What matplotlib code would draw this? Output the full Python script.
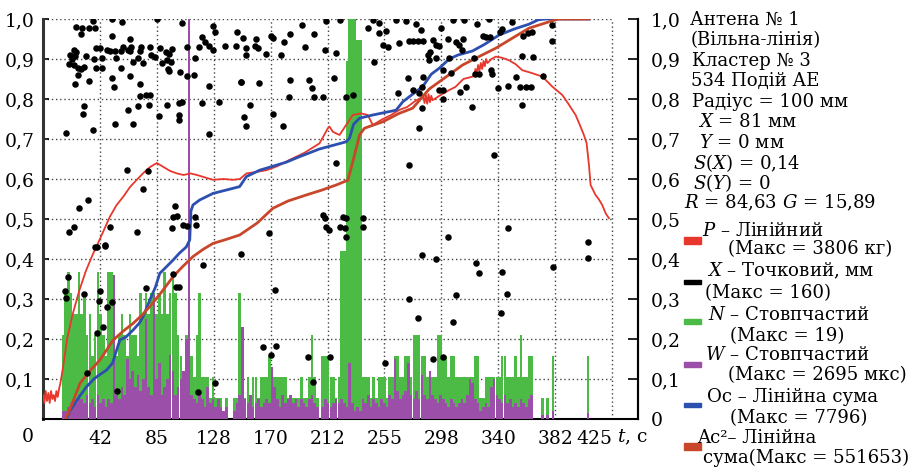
import numpy as np
import matplotlib
matplotlib.use("Agg")
import matplotlib.pyplot as plt
from matplotlib.patches import Rectangle

plt.rcParams['font.family'] = ['DejaVu Serif']
plt.rcParams['mathtext.fontset'] = 'custom'
plt.rcParams['mathtext.it'] = 'DejaVu Serif:italic'
plt.rcParams['mathtext.rm'] = 'DejaVu Serif'

# ---------------- data ----------------
x_ticks = [42.5, 85, 127.5, 170, 212.5, 255, 297.5, 340, 382.5, 425]
x_labels = ['42', '85', '128', '170', '212', '255', '298', '340', '382', '425']
y_ticks = [0.0, 0.1, 0.2, 0.3, 0.4, 0.5, 0.6, 0.7, 0.8, 0.9, 1.0]
y_labels_left = ['', '0,1', '0,2', '0,3', '0,4', '0,5', '0,6', '0,7', '0,8', '0,9', '1,0']
y_labels_right = ['0', '0,1', '0,2', '0,3', '0,4', '0,5', '0,6', '0,7', '0,8', '0,9', '1,0']

# 2-second bins starting at t = 14
bin_start = 14
N_counts = [4, 6, 7, 6, 5, 5, 7, 5, 6, 4, 5, 3, 4, 7, 5, 4, 3, 7, 7, 2,
            3, 4, 5, 4, 3, 5, 4, 4, 3, 6, 5, 6, 5, 6, 6, 5, 6, 5, 7, 5,
            6, 7, 6, 4, 3, 2, 4, 6, 3, 2, 4, 6, 2, 2, 2, 1, 2, 1, 1, 1,
            0, 1, 0, 0, 1, 1, 6, 2, 1, 2, 1, 2, 2, 1, 2, 2, 2, 3, 2, 2,
            2, 2, 2, 2, 1, 1, 1, 1, 1, 2, 1, 1, 2, 4, 2, 1, 0, 3, 3, 3,
            2, 2, 1, 2, 8, 8, 17, 19, 19, 19, 18, 18, 2, 2, 2, 1, 2, 1, 2, 2,
            2, 1, 2, 2, 3, 3, 2, 2, 3, 3, 2, 4, 4, 4, 3, 3, 2, 2, 2, 2,
            4, 4, 3, 3, 2, 3, 3, 2, 2, 2, 2, 2, 2, 2, 3, 3, 1, 1, 2, 2,
            2, 2, 2, 2, 3, 3, 2, 2, 2, 3, 2, 4, 2, 2, 3, 3, 0, 0, 0, 1,
            0, 1, 0, 3, 0, 0, 0, 0, 0, 0, 0, 0, 0, 0, 0, 0, 3, 0]
N_max = 19
W_rel = [0.02, 0.02, 0.03, 0.04, 0.05, 0.04, 0.06, 0.05, 0.04, 0.06, 0.04, 0.05, 0.03, 0.06, 0.04, 0.05, 0.03, 0.05, 0.04, 0.36,
         0.06, 0.05, 0.08, 0.06, 0.15, 0.10, 0.12, 0.08, 0.11, 0.07, 0.10, 0.25, 0.08, 0.06, 0.31, 0.10, 0.14, 0.06, 0.08, 0.10,
         0.16, 0.12, 0.06, 0.08, 0.10, 0.12, 0.20, 1.00, 0.06, 0.05, 0.04, 0.06, 0.05, 0.03, 0.08, 0.04, 0.05, 0.03, 0.05, 0.03,
         0.02, 0.03, 0.0, 0.0, 0.02, 0.04, 0.06, 0.23, 0.05, 0.04, 0.06, 0.03, 0.04, 0.05, 0.03, 0.04, 0.05, 0.04, 0.13, 0.08,
         0.05, 0.03, 0.06, 0.04, 0.05, 0.06, 0.04, 0.05, 0.03, 0.05, 0.04, 0.03, 0.05, 0.06, 0.04, 0.03, 0.0, 0.03, 0.05, 0.04,
         0.03, 0.04, 0.05, 0.04, 0.05, 0.04, 0.03, 0.14, 0.04, 0.02, 0.03, 0.02, 0.05, 0.04, 0.06, 0.03, 0.05, 0.04, 0.03, 0.05,
         0.04, 0.03, 0.06, 0.05, 0.15, 0.07, 0.05, 0.06, 0.07, 0.14, 0.06, 0.05, 0.07, 0.05, 0.11, 0.06, 0.05, 0.12, 0.06, 0.05,
         0.04, 0.06, 0.05, 0.04, 0.03, 0.05, 0.04, 0.03, 0.04, 0.05, 0.04, 0.06, 0.10, 0.09, 0.05, 0.04, 0.02, 0.03, 0.04, 0.03,
         0.08, 0.10, 0.06, 0.05, 0.04, 0.06, 0.04, 0.05, 0.03, 0.04, 0.03, 0.05, 0.04, 0.03, 0.05, 0.06, 0.0, 0.0, 0.0, 0.01,
         0.0, 0.01, 0.0, 0.02, 0.0, 0.0, 0.0, 0.0, 0.0, 0.0, 0.0, 0.0, 0.0, 0.0, 0.0, 0.0, 0.015, 0.0]

P_line = [(0, 0.06), (1, 0.04), (2, 0.07), (3, 0.045), (4, 0.065), (5, 0.04), (6, 0.07), (7, 0.05),
          (8, 0.06), (9, 0.045), (10, 0.07), (11, 0.055), (12, 0.075), (13, 0.09), (15, 0.13), (18, 0.2),
          (22, 0.26), (27, 0.32), (32, 0.37), (37, 0.41), (42.5, 0.45), (50, 0.506), (55, 0.535), (60, 0.556),
          (65, 0.58), (70, 0.598), (75, 0.615), (80, 0.63), (85, 0.64), (90, 0.63), (95, 0.62), (100, 0.614),
          (105, 0.61), (110, 0.614), (115, 0.61), (120, 0.605), (127, 0.598), (135, 0.6), (142, 0.598),
          (147, 0.6), (152, 0.614), (160, 0.618), (167, 0.622), (175, 0.632), (184, 0.6475), (195, 0.665),
          (206.5, 0.689), (210, 0.71), (212.8, 0.727), (214, 0.731), (216.5, 0.718), (221.5, 0.71),
          (226.4, 0.735), (231.4, 0.76), (237.6, 0.764), (242.6, 0.76), (246.3, 0.735), (253.8, 0.75),
          (260, 0.76), (266, 0.7725), (272, 0.78), (278, 0.795), (284, 0.806), (285, 0.79), (286, 0.81),
          (287, 0.788), (288, 0.812), (289, 0.792), (290, 0.808), (291, 0.797), (297, 0.81), (303.5, 0.8225),
          (308, 0.83), (314, 0.85), (320.8, 0.856), (322, 0.86), (323, 0.875), (324, 0.865), (325, 0.885),
          (326, 0.87), (327, 0.89), (328, 0.875), (329, 0.895), (330, 0.882), (331, 0.9), (332, 0.89),
          (335, 0.9), (338.2, 0.906), (343, 0.903), (348, 0.897), (353, 0.887), (358, 0.872), (365, 0.865),
          (373, 0.856), (380.4, 0.831), (387.9, 0.81), (392, 0.79), (397.8, 0.76), (401, 0.735), (404, 0.71),
          (406, 0.69), (407.8, 0.635), (409, 0.585), (412.7, 0.56), (415, 0.55), (417.7, 0.535),
          (420.3, 0.514), (422.7, 0.502)]

Oc_line = [(17.7, 0.0), (20, 0.02), (24, 0.04), (28, 0.06), (32.6, 0.081), (38, 0.1), (42, 0.11),
           (47.5, 0.1225), (52, 0.14), (55, 0.1725), (57.4, 0.1975), (62, 0.205), (67.3, 0.2225),
           (72, 0.24), (74.8, 0.256), (79.8, 0.2975), (84, 0.33), (87.2, 0.364), (92, 0.38), (97.2, 0.3975),
           (102, 0.415), (107, 0.43), (109.6, 0.4475), (110.5, 0.52), (112, 0.535), (117, 0.5475),
           (127, 0.564), (140, 0.575), (146.9, 0.581), (151.9, 0.606), (161.8, 0.622), (166.8, 0.627),
           (181.7, 0.642), (191, 0.655), (206.5, 0.675), (216.5, 0.684), (226.4, 0.693), (228.9, 0.702),
           (232, 0.737), (236.4, 0.752), (246.3, 0.76), (263.7, 0.772), (268.7, 0.793), (276.1, 0.812),
           (283.6, 0.831), (290, 0.862), (296, 0.877), (303.4, 0.9), (310, 0.91), (320.8, 0.92),
           (330, 0.937), (340.7, 0.96), (352, 0.975), (363, 0.987), (370, 0.998), (375, 1.0), (407.8, 1.0)]

Ac2_line = [(17, 0.0), (22, 0.04), (27.6, 0.089), (35, 0.12), (42.5, 0.1475), (48, 0.175), (52.4, 0.1975),
            (60, 0.22), (67.3, 0.239), (74, 0.26), (79.8, 0.281), (88, 0.315), (97.2, 0.356), (104, 0.38),
            (112, 0.406), (120, 0.425), (127, 0.439), (135, 0.447), (146.9, 0.46), (160, 0.49),
            (171.8, 0.527), (183, 0.545), (196.6, 0.56), (208, 0.572), (219, 0.585), (227.7, 0.597),
            (231.4, 0.643), (236.4, 0.71), (240.1, 0.727), (253.8, 0.743), (266, 0.764), (276.1, 0.777),
            (288.5, 0.825), (296, 0.843), (313.4, 0.885), (328, 0.91), (338.2, 0.927), (352, 0.955),
            (363, 0.977), (378, 0.993), (385, 1.0), (407.8, 1.0)]

X_points = [
    (37.3, 0.995), (51.7, 1.0), (58.9, 0.992), (85.0, 1.0), (103.9, 0.989), (126.7, 0.983), (128.2, 0.968),
    (144.6, 0.968), (24.9, 0.981), (29.3, 0.978), (34.3, 0.978), (39.0, 0.977), (28.3, 0.962), (51.7, 0.958),
    (65.1, 0.95), (118.8, 0.956), (121.3, 0.943), (59.6, 0.931), (65.6, 0.931), (63.6, 0.922), (73.1, 0.93),
    (80.0, 0.931), (87.5, 0.927), (96.4, 0.925), (107.9, 0.929), (116.8, 0.931), (124.3, 0.933),
    (136.2, 0.933), (144.1, 0.933), (22.9, 0.922), (24.9, 0.918), (39.8, 0.928), (42.7, 0.927),
    (47.7, 0.922), (50.2, 0.92), (53.7, 0.92), (58.6, 0.92), (65.1, 0.92), (72.1, 0.92), (20.4, 0.91),
    (23.9, 0.908), (21.4, 0.9), (31.8, 0.907), (38.3, 0.9), (43.7, 0.902), (54.2, 0.903), (71.1, 0.903),
    (80.5, 0.91), (84.0, 0.905), (91.5, 0.917), (93.9, 0.912), (92.4, 0.898), (95.9, 0.893), (113.3, 0.903),
    (126.7, 0.923), (19.4, 0.887), (22.9, 0.885), (25.8, 0.878), (30.3, 0.881), (28.3, 0.875), (39.8, 0.878),
    (43.7, 0.877), (58.2, 0.878), (67.1, 0.893), (74.6, 0.889), (89.0, 0.889), (93.4, 0.875), (94.4, 0.87),
    (102.4, 0.868), (107.4, 0.857), (112.8, 0.86), (25.8, 0.86), (23.9, 0.837), (34.3, 0.845), (51.2, 0.852),
    (65.1, 0.857), (52.7, 0.831), (72.6, 0.837), (124.3, 0.833), (148.1, 0.843), (72.1, 0.808), (77.0, 0.81),
    (80.0, 0.81), (70.6, 0.783), (63.6, 0.773), (79.5, 0.785), (92.4, 0.785), (101.9, 0.789), (103.9, 0.792),
    (118.8, 0.789), (131.2, 0.793), (30.8, 0.782), (29.8, 0.762), (86.5, 0.758), (101.4, 0.76), (101.9, 0.747),
    (53.7, 0.737), (67.1, 0.737), (16.9, 0.715), (37.3, 0.722), (123.8, 0.713), (62.6, 0.622), (78.5, 0.62),
    (74.6, 0.575), (33.8, 0.547), (26.8, 0.528), (22.9, 0.48), (19.4, 0.467), (50.2, 0.48), (70.1, 0.468),
    (38.8, 0.43), (46.2, 0.433), (98.9, 0.532), (97.4, 0.505), (99.9, 0.507), (96.4, 0.477), (104.4, 0.485),
    (107.4, 0.483), (113.8, 0.505), (114.3, 0.485),
    (211.5, 0.995), (221.5, 0.998), (246.3, 0.998), (251.3, 0.989), (263.7, 0.998), (271.2, 0.995),
    (278.6, 0.987), (282.3, 0.972), (149.4, 0.952), (158.8, 0.95), (170.5, 0.958), (184.2, 0.962),
    (193.6, 0.985), (202.1, 0.962), (151.9, 0.927), (158.1, 0.933), (160.6, 0.927), (171.8, 0.952),
    (179.7, 0.943), (195.4, 0.931), (211.0, 0.922), (219.0, 0.914), (242.6, 0.977), (251.3, 0.964),
    (256.2, 0.97), (253.8, 0.935), (257.5, 0.931), (266.2, 0.939), (273.6, 0.945), (276.1, 0.945),
    (279.9, 0.945), (283.6, 0.945), (291.0, 0.948), (293.5, 0.935), (166.8, 0.912), (178.0, 0.91),
    (151.4, 0.91), (247.5, 0.893), (287.3, 0.91), (288.5, 0.898), (148.1, 0.843), (161.3, 0.839),
    (184.2, 0.848), (198.6, 0.848), (201.1, 0.828), (202.1, 0.806), (217.0, 0.852), (209.5, 0.806),
    (183.7, 0.806), (226.4, 0.806), (231.4, 0.81), (272.4, 0.853), (276.1, 0.823), (283.6, 0.856),
    (283.1, 0.831), (265.0, 0.814), (281.1, 0.814), (154.4, 0.785), (171.8, 0.762), (149.9, 0.756),
    (151.9, 0.733), (179.2, 0.733), (283.1, 0.777), (280.6, 0.727), (219.0, 0.639), (273.6, 0.635),
    (209.0, 0.51), (211.0, 0.502), (211.5, 0.481), (213.5, 0.472), (223.9, 0.506), (226.4, 0.503),
    (222.0, 0.481), (225.4, 0.477), (226.4, 0.456), (239.3, 0.503), (239.3, 0.481), (168.8, 0.464),
    (305.9, 0.998), (314.6, 0.998), (323.8, 0.987), (333.2, 1.0), (350.1, 0.992), (297.2, 0.977),
    (342.7, 0.975), (341.2, 0.968), (302.2, 0.95), (308.4, 0.943), (313.4, 0.95), (310.4, 0.935),
    (312.9, 0.922), (328.3, 0.958), (330.7, 0.956), (333.7, 0.956), (295.5, 0.933), (358.6, 0.958),
    (362.6, 0.964), (365.0, 0.968), (380.0, 0.985), (380.4, 0.945), (293.5, 0.902), (303.4, 0.903),
    (289.0, 0.918), (322.0, 0.902), (358.1, 0.908), (366.0, 0.906), (298.4, 0.872), (304.7, 0.864),
    (322.8, 0.862), (325.8, 0.862), (334.5, 0.872), (335.7, 0.862), (353.6, 0.856), (373.5, 0.858),
    (296.0, 0.822), (298.9, 0.822), (311.4, 0.817), (315.8, 0.831), (340.2, 0.827), (347.6, 0.833),
    (356.1, 0.831), (360.6, 0.831), (364.3, 0.831), (298.4, 0.8), (320.3, 0.781), (357.6, 0.785),
    (337.0, 0.66), (347.6, 0.478), (302.2, 0.456), (407.3, 0.442),
    (40.0, 0.431), (46.2, 0.435), (18.9, 0.354), (16.4, 0.321), (17.1, 0.302), (42.5, 0.321),
    (41.5, 0.296), (51.4, 0.292), (47.9, 0.281), (40.5, 0.216), (45.0, 0.229), (30.6, 0.312),
    (33.1, 0.114), (77.3, 0.327), (97.2, 0.362), (99.6, 0.331), (101.6, 0.329), (119.5, 0.385),
    (148.1, 0.4125), (115.8, 0.068), (128.2, 0.089), (55.4, 0.071), (164.3, 0.179), (170.5, 0.16),
    (173.0, 0.3225), (173.7, 0.182), (197.8, 0.154), (201.5, 0.093), (214.5, 0.154), (255.7, 0.139),
    (273.1, 0.299), (279.8, 0.252), (283.1, 0.41), (293.5, 0.399), (308.4, 0.31), (306.4, 0.243),
    (299.0, 0.154), (291.0, 0.15), (323.3, 0.389), (325.3, 0.364), (342.7, 0.367), (346.9, 0.312),
    (341.9, 0.266), (381.0, 0.379), (407.3, 0.402)]

legend_info = ["Антена № 1", "(Вільна-лінія)", "Кластер № 3", "534 Подій АЕ", "Радіус = 100 мм",
               "$X$ = 81 мм", "$Y$ = 0 мм", "$S(X)$ = 0,14", "$S(Y)$ = 0", "$R$ = 84,63 $G$ = 15,89"]
legend_series = ["$P$ – Лінійний", "(Макс = 3806 кг)", "$X$ – Точковий, мм", "(Макс = 160)",
                 "$N$ – Стовпчастий", "(Макс = 19)", "$W$ – Стовпчастий", "(Макс = 2695 мкс)",
                 "Ос – Лінійна сума", "(Макс = 7796)", "Ac²– Лінійна", "сума(Макс = 551653)"]

# ---------------- styling ----------------
W_PX, H_PX = 916, 472
C_RED = '#e8372c'
C_BLUE = '#2c4fb0'
C_BROWN = '#c8472a'
C_GREEN = '#4cbb45'
C_PURPLE = '#9c4fa8'
FS = 13.5
FS_TXT = 13.1

fig = plt.figure(figsize=(W_PX / 100, H_PX / 100), dpi=100)
fig.patch.set_facecolor('white')

def fx(px):
    return px / W_PX

def fy(py):
    return 1 - py / H_PX

x0, x1, ytop, ybot = 43, 638, 19, 419
ax = fig.add_axes([fx(x0), fy(ybot), fx(x1) - fx(x0), fy(ytop) - fy(ybot)])
px_per_t = (612 - 43) / 425.0
ax.set_xlim(0, (x1 - x0) / px_per_t)
ax.set_ylim(0, 1)

# grid limited to t <= 425
ax.vlines(x_ticks, 0, 1, colors='#444444', linestyles=(0, (1, 2)), linewidth=1.0, zorder=1)
ax.hlines(y_ticks[1:], 0, 425, colors='#444444', linestyles=(0, (1, 2)), linewidth=1.0, zorder=1)

# bars
t_bins = bin_start + 2 * np.arange(len(N_counts))
N_vals = np.array(N_counts) / N_max
ax.bar(t_bins, N_vals, width=1.95, align='edge', color=C_GREEN, linewidth=0, zorder=2)
W_vals = np.array(W_rel)
ax.bar(t_bins, W_vals, width=1.95, align='edge', color=C_PURPLE, linewidth=0, zorder=3)

# lines
for data, col, lw in [(P_line, C_RED, 1.3), (Oc_line, C_BLUE, 2.0), (Ac2_line, C_BROWN, 2.0)]:
    t, v = zip(*data)
    ax.plot(t, v, color=col, lw=lw, zorder=4)

xs, ys = zip(*X_points)
ax.scatter(xs, ys, s=22, color='black', zorder=5, linewidths=0)

# spines
ax.spines['top'].set_visible(False)
ax.spines['left'].set_linewidth(2.2)
ax.spines['left'].set_color('#333333')
ax.spines['bottom'].set_linewidth(1.5)
ax.spines['right'].set_linewidth(1.5)

ax.set_xticks(x_ticks)
ax.set_xticklabels(x_labels, fontsize=FS)
ax.tick_params(axis='x', length=0, pad=8)
ax.get_xticklabels()[-1].set_ha('right')
ax.set_yticks(y_ticks)
ax.set_yticklabels(y_labels_left, fontsize=FS)
ax.tick_params(axis='y', direction='in', length=4, width=1.2, pad=6)

ax2 = ax.twinx()
ax2.set_ylim(0, 1)
ax2.set_yticks(y_ticks)
ax2.set_yticklabels(y_labels_right, fontsize=FS)
ax2.tick_params(axis='y', direction='in', length=7, width=1.2, pad=9)
for s in ['top', 'left', 'bottom']:
    ax2.spines[s].set_visible(False)
ax2.spines['right'].set_linewidth(1.5)

fig.text(fx(28), fy(437), '0', fontsize=FS, ha='center', va='center')
fig.text(fx(617), fy(437), '$t$, с', fontsize=FS, ha='left', va='center')

# right-hand text
info_pos = [(690, 20), (691, 40), (692, 61), (691, 81), (692, 102), (698, 122), (699, 143),
            (693, 163), (693, 183), (684, 203)]
for (px, py), s in zip(info_pos, legend_info):
    fig.text(fx(px), fy(py), s, fontsize=FS_TXT, ha='left', va='center')

series_pos = [(702, 231), (728, 249), (707, 271), (705, 293), (708, 315), (730, 336),
              (705, 355), (728, 375), (707, 397), (730, 418), (697, 438), (703, 458)]
for (px, py), s in zip(series_pos, legend_series):
    fig.text(fx(px), fy(py), s, fontsize=FS_TXT, ha='left', va='center')

swatches = [(C_RED, 237, 244), ('black', 280, 284), (C_GREEN, 319, 324), (C_PURPLE, 362, 367),
            (C_BLUE, 403, 407), (C_BROWN, 443, 450)]
for col, yt, yb in swatches:
    fig.patches.append(Rectangle((fx(684), fy(yb)), fx(701) - fx(684), fy(yt) - fy(yb),
                                 transform=fig.transFigure, color=col, figure=fig))

fig.savefig('out.png', dpi=100)
